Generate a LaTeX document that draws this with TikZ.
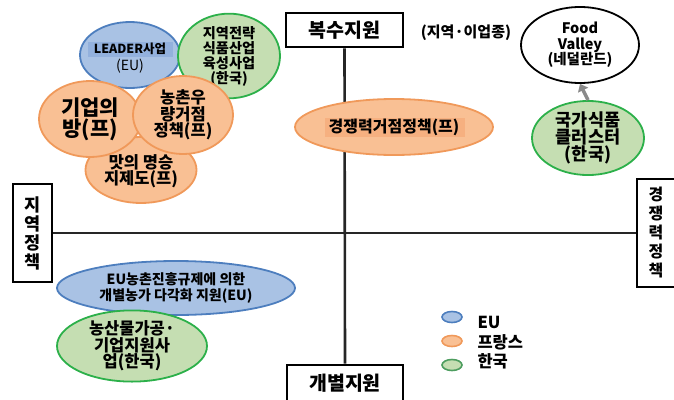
\documentclass[tikz,border=0pt]{standalone}
\usepackage{fontspec}
\setmainfont{Noto Sans CJK KR}
\usetikzlibrary{shapes.geometric,arrows.meta}
\definecolor{eufill}{HTML}{A9C2E4}
\definecolor{euband}{HTML}{93B1DD}
\definecolor{euline}{HTML}{4D7EBE}
\definecolor{frfill}{HTML}{F9C094}
\definecolor{frband}{HTML}{F6B080}
\definecolor{frline}{HTML}{F0995A}
\definecolor{krfill}{HTML}{C5DEB2}
\definecolor{krline}{HTML}{2CB04A}
\definecolor{arrowgray}{HTML}{8A8A8A}
\tikzset{
  axisbox/.style={draw=black, line width=2.6pt, fill=white, inner sep=0pt, font=\bfseries},
  axisline/.style={line width=2.6pt, draw=black!85},
  blob/.style={ellipse, inner sep=0pt, line width=1.8pt, align=center, font=\bfseries},
  eublob/.style={blob, fill=eufill, draw=euline},
  frblob/.style={blob, fill=frfill, draw=frline},
  krblob/.style={blob, fill=krfill, draw=krline},
  keydot/.style={ellipse, inner sep=0pt, minimum width=20pt, minimum height=11pt, line width=1.6pt},
  keytext/.style={anchor=west, font=\bfseries\fontsize{16.5}{18}\selectfont}
}
\begin{document}
\begin{tikzpicture}[x=1pt,y=-1pt]
\useasboundingbox (0,0) rectangle (674,399);

% axis labels
\node[axisbox, minimum width=117pt, minimum height=34pt, font=\bfseries\fontsize{19.5}{21}\selectfont] (top) at (344.5,30) {복수지원};
\node[axisbox, minimum width=116pt, minimum height=36pt, font=\bfseries\fontsize{19.5}{21}\selectfont] (bottom) at (345,383) {개별지원};
\node[axisbox, minimum width=39pt, minimum height=98pt, align=center, font=\bfseries\fontsize{17.5}{19}\selectfont] (left) at (32.5,233) {지\\역\\정\\책};
\node[axisbox, minimum width=38pt, minimum height=108pt, align=center, font=\bfseries\fontsize{16}{19}\selectfont] (right) at (656,233) {경\\쟁\\력\\정\\책};

% axes
\draw[axisline] (top.south) -- (bottom.north);
\draw[axisline] (left.east) -- (right.west);

% upper-left cluster
\node[eublob, minimum width=100pt, minimum height=66pt] (leader) at (130,55) {};
\fill[euband] (88,42) rectangle (173,57);
\node[font=\bfseries\fontsize{12.5}{17}\selectfont, align=center] (leadertxt) at (130,58) {LEADER사업\\{\mdseries\fontsize{14}{17}\selectfont (EU)}};
\node[krblob, minimum width=102pt, minimum height=64pt, font=\bfseries\fontsize{14.2}{15}\selectfont] (foodind) at (229,56) {지역전략\\식품산업\\육성사업\\(한국)};
\node[frblob, minimum width=111pt, minimum height=66pt] (taste) at (141,170) {};
\node[font=\bfseries\fontsize{16.5}{15.5}\selectfont, align=center] (tastetxt) at (141,171) {맛의 명승\\지제도(프)};
\node[frblob, minimum width=102pt, minimum height=76pt, font=\bfseries\fontsize{21}{19}\selectfont] (firm) at (90,119) {기업의\\방(프)};
\node[frblob, minimum width=100pt, minimum height=78pt, font=\bfseries\fontsize{16.5}{16.5}\selectfont] (rural) at (183,115) {농촌우\\량거점\\정책(프)};

% upper-right
\node[frblob, minimum width=198pt, minimum height=56pt] (hub) at (394,127) {};
\fill[frband] (325,118) rectangle (465,137);
\node[font=\bfseries\fontsize{16}{18}\selectfont] (hubtxt) at (394,127) {경쟁력거점정책(프)};
\node[font=\bfseries\fontsize{15}{17}\selectfont] (region) at (466,33) {(지역·이업종)};
\node[blob, draw=black, fill=white, line width=1.8pt, minimum width=118pt, minimum height=76pt, font=\bfseries\fontsize{14.5}{15.5}\selectfont] (valley) at (580,45) {Food\\Valley\\(네덜란드)};
\node[krblob, minimum width=112pt, minimum height=74pt, font=\bfseries\fontsize{17.5}{17}\selectfont] (cluster) at (588,138) {국가식품\\클러스터\\(한국)};
\draw[arrowgray, line width=3.5pt, -{Triangle[length=7pt,width=11pt]}] (cluster.north) -- (valley.south);

% lower-left
\node[eublob, minimum width=238pt, minimum height=54pt, font=\bfseries\fontsize{14}{16}\selectfont] (diverse) at (176,288) {EU농촌진흥규제에 의한\\개별농가 다각화 지원(EU)};
\node[krblob, minimum width=150pt, minimum height=58pt, font=\bfseries\fontsize{16.5}{14.5}\selectfont] (agro) at (132,346) {농산물가공·\\기업지원사\\업(한국)};

% key
\node[keydot, fill=eufill, draw=euline] (keyeu) at (452,317) {};
\node[keydot, fill=frfill, draw=frline] (keyfr) at (452,341) {};
\node[keydot, fill=krfill, draw=krline!60!gray] (keykr) at (452,365) {};
\node[keytext] (txteu) at (474,322) {EU};
\node[keytext] (txtfr) at (474,342) {프랑스};
\node[keytext] (txtkr) at (474,361) {한국};
\end{tikzpicture}
\end{document}
